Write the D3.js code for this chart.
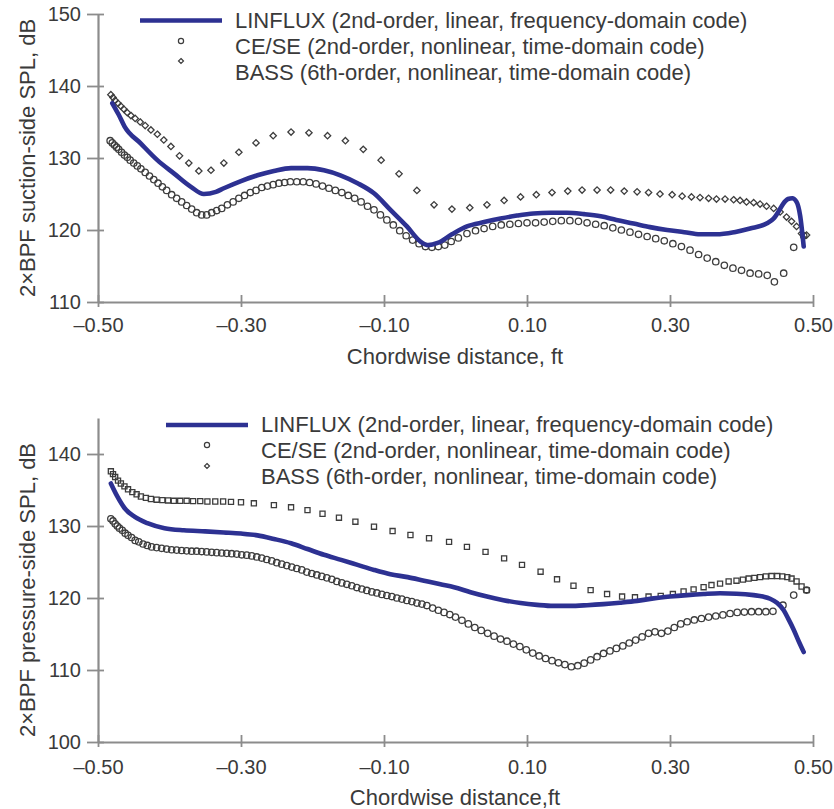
<!DOCTYPE html>
<html>
<head>
<meta charset="utf-8">
<script src="https://cdn.jsdelivr.net/npm/d3@7/dist/d3.min.js"></script>
<style>
  html, body { margin: 0; padding: 0; background: #fff; }
  svg { display: block; }
  text { font-family: "Liberation Sans", Arial, Helvetica, sans-serif; fill: #3a3a3a; }
</style>
</head>
<body>
<svg id="chart" width="834" height="809"></svg>
<script>
// ---- axis ticks and labels ----
const xTicks = [-0.5, -0.3, -0.1, 0.1, 0.3, 0.5];
const suctionTicks = [110, 120, 130, 140, 150];
const pressureTicks = [100, 110, 120, 130, 140];
const seriesNames = [
  "LINFLUX (2nd-order, linear, frequency-domain code)",
  "CE/SE (2nd-order, nonlinear, time-domain code)",
  "BASS (6th-order, nonlinear, time-domain code)"
];

// ---- suction side: [chordwise distance ft, 2xBPF SPL dB] ----
const suctionLinflux = [
  [-0.480, 137.6], [-0.471, 136.0], [-0.463, 134.4], [-0.440, 132.0], [-0.417, 129.7],
  [-0.393, 127.8], [-0.370, 126.0], [-0.352, 125.0], [-0.335, 125.3], [-0.324, 125.8],
  [-0.300, 126.8], [-0.277, 127.6], [-0.254, 128.2], [-0.230, 128.6], [-0.207, 128.6],
  [-0.184, 128.3], [-0.161, 127.6], [-0.137, 126.5], [-0.114, 125.1], [-0.091, 122.8],
  [-0.068, 120.5], [-0.049, 118.4], [-0.038, 117.9], [-0.025, 118.2], [-0.005, 119.4],
  [0.016, 120.5], [0.040, 121.1], [0.063, 121.6], [0.086, 122.0], [0.109, 122.3],
  [0.133, 122.4], [0.156, 122.4], [0.180, 122.2], [0.203, 121.9], [0.225, 121.4],
  [0.249, 120.9], [0.272, 120.4], [0.296, 120.0], [0.320, 119.7], [0.342, 119.4],
  [0.365, 119.4], [0.390, 119.7], [0.412, 120.2], [0.435, 120.9], [0.445, 121.6],
  [0.452, 122.6], [0.458, 123.6], [0.465, 124.3], [0.471, 124.4], [0.477, 123.9],
  [0.482, 122.0], [0.487, 117.7]
];

const suctionCese = [
  [-0.483, 132.4], [-0.480, 132.1], [-0.477, 131.8], [-0.474, 131.5], [-0.471, 131.2],
  [-0.467, 130.8], [-0.463, 130.4], [-0.459, 130.1], [-0.455, 129.7], [-0.450, 129.3],
  [-0.445, 128.9], [-0.440, 128.5], [-0.434, 128.0], [-0.428, 127.5], [-0.422, 127.0],
  [-0.416, 126.5], [-0.410, 126.0], [-0.404, 125.5], [-0.397, 124.9], [-0.390, 124.4],
  [-0.383, 123.9], [-0.376, 123.4], [-0.369, 122.9], [-0.362, 122.4], [-0.355, 122.1],
  [-0.348, 122.1], [-0.341, 122.4], [-0.334, 122.7], [-0.327, 123.0], [-0.319, 123.5],
  [-0.311, 123.9], [-0.303, 124.4], [-0.295, 124.8], [-0.287, 125.2], [-0.279, 125.5],
  [-0.271, 125.9], [-0.263, 126.1], [-0.255, 126.3], [-0.247, 126.5], [-0.239, 126.6],
  [-0.231, 126.7], [-0.222, 126.7], [-0.213, 126.7], [-0.204, 126.6], [-0.195, 126.4],
  [-0.186, 126.1], [-0.177, 125.8], [-0.168, 125.5], [-0.159, 125.2], [-0.150, 124.8],
  [-0.141, 124.4], [-0.132, 123.9], [-0.123, 123.3], [-0.114, 122.8], [-0.105, 122.1],
  [-0.096, 121.4], [-0.087, 120.7], [-0.078, 119.9], [-0.069, 119.2], [-0.060, 118.6],
  [-0.051, 118.1], [-0.042, 117.7], [-0.033, 117.6], [-0.024, 117.7], [-0.015, 117.9],
  [-0.006, 118.4], [0.004, 118.9], [0.016, 119.5], [0.028, 119.9], [0.040, 120.2],
  [0.052, 120.5], [0.064, 120.7], [0.076, 120.8], [0.088, 120.9], [0.100, 121.0],
  [0.112, 121.0], [0.124, 121.1], [0.136, 121.2], [0.148, 121.3], [0.160, 121.3],
  [0.172, 121.2], [0.184, 121.0], [0.196, 120.8], [0.208, 120.6], [0.220, 120.3],
  [0.232, 120.0], [0.244, 119.7], [0.256, 119.4], [0.268, 119.1], [0.280, 118.8],
  [0.292, 118.5], [0.304, 118.1], [0.316, 117.7], [0.328, 117.2], [0.340, 116.6],
  [0.352, 116.1], [0.364, 115.6], [0.376, 115.1], [0.388, 114.7], [0.400, 114.4],
  [0.412, 114.0], [0.424, 113.9], [0.436, 113.7], [0.446, 112.8], [0.459, 114.0],
  [0.473, 117.6], [0.487, 119.2]
];

const suctionBass = [
  [-0.482, 138.8], [-0.479, 138.4], [-0.476, 138.0], [-0.472, 137.6], [-0.468, 137.2],
  [-0.464, 136.8], [-0.459, 136.3], [-0.454, 135.9], [-0.448, 135.5], [-0.441, 135.0],
  [-0.434, 134.5], [-0.426, 133.9], [-0.417, 133.3], [-0.408, 132.5], [-0.398, 131.6],
  [-0.386, 130.3], [-0.373, 129.3], [-0.359, 128.2], [-0.342, 128.3], [-0.324, 129.3],
  [-0.303, 130.8], [-0.279, 132.1], [-0.255, 133.1], [-0.230, 133.6], [-0.205, 133.5],
  [-0.179, 133.1], [-0.154, 132.4], [-0.129, 131.2], [-0.104, 129.7], [-0.079, 127.8],
  [-0.054, 125.5], [-0.030, 123.5], [-0.005, 122.9], [0.020, 123.1], [0.044, 123.5],
  [0.068, 124.1], [0.091, 124.6], [0.113, 124.9], [0.135, 125.2], [0.157, 125.4],
  [0.177, 125.55], [0.198, 125.55], [0.217, 125.55], [0.236, 125.4], [0.254, 125.3],
  [0.270, 125.2], [0.286, 125.0], [0.303, 124.9], [0.317, 124.7], [0.330, 124.6],
  [0.342, 124.5], [0.354, 124.4], [0.365, 124.3], [0.377, 124.3], [0.389, 124.2],
  [0.398, 124.1], [0.407, 123.9], [0.417, 123.8], [0.426, 123.6], [0.435, 123.3],
  [0.445, 123.0], [0.454, 122.5], [0.463, 121.8], [0.470, 121.2], [0.477, 120.5],
  [0.484, 119.5], [0.491, 119.3]
];

// ---- pressure side: [chordwise distance ft, 2xBPF SPL dB] ----
const pressureLinflux = [
  [-0.482, 135.9], [-0.473, 134.1], [-0.463, 132.5], [-0.449, 131.3], [-0.431, 130.4],
  [-0.407, 129.7], [-0.380, 129.4], [-0.350, 129.25], [-0.324, 129.1], [-0.300, 128.95],
  [-0.277, 128.7], [-0.254, 128.2], [-0.230, 127.6], [-0.207, 126.8], [-0.184, 126.0],
  [-0.160, 125.3], [-0.137, 124.6], [-0.114, 123.9], [-0.091, 123.3], [-0.067, 122.9],
  [-0.044, 122.4], [-0.021, 121.9], [-0.002, 121.5], [0.021, 120.8], [0.044, 120.2],
  [0.067, 119.7], [0.091, 119.3], [0.114, 119.05], [0.137, 118.9], [0.160, 118.9],
  [0.184, 119.0], [0.207, 119.15], [0.230, 119.35], [0.254, 119.6], [0.277, 119.95],
  [0.300, 120.2], [0.324, 120.4], [0.347, 120.55], [0.370, 120.65], [0.393, 120.6],
  [0.417, 120.4], [0.430, 120.2], [0.440, 119.9], [0.450, 119.3], [0.459, 118.3],
  [0.466, 117.0], [0.473, 115.6], [0.480, 114.0], [0.487, 112.5]
];

const pressureCese = [
  [-0.482, 131.0], [-0.479, 130.7], [-0.476, 130.3], [-0.473, 130.0], [-0.470, 129.7],
  [-0.466, 129.4], [-0.462, 129.0], [-0.458, 128.7], [-0.453, 128.4], [-0.448, 128.0],
  [-0.443, 127.8], [-0.437, 127.5], [-0.431, 127.3], [-0.425, 127.1], [-0.418, 127.0],
  [-0.411, 126.9], [-0.404, 126.8], [-0.397, 126.7], [-0.390, 126.65], [-0.383, 126.6],
  [-0.376, 126.55], [-0.369, 126.5], [-0.362, 126.5], [-0.355, 126.45], [-0.348, 126.4],
  [-0.341, 126.35], [-0.334, 126.3], [-0.327, 126.25], [-0.320, 126.2], [-0.313, 126.15],
  [-0.306, 126.1], [-0.299, 126.0], [-0.292, 125.95], [-0.285, 125.85], [-0.278, 125.7],
  [-0.271, 125.55], [-0.264, 125.35], [-0.257, 125.15], [-0.250, 124.9], [-0.243, 124.7],
  [-0.236, 124.5], [-0.229, 124.3], [-0.222, 124.1], [-0.215, 123.9], [-0.208, 123.6],
  [-0.201, 123.4], [-0.194, 123.2], [-0.187, 123.0], [-0.180, 122.8], [-0.173, 122.6],
  [-0.166, 122.3], [-0.159, 122.1], [-0.152, 121.9], [-0.145, 121.7], [-0.138, 121.45],
  [-0.131, 121.25], [-0.124, 121.05], [-0.117, 120.85], [-0.110, 120.7], [-0.103, 120.5],
  [-0.096, 120.35], [-0.089, 120.2], [-0.082, 120.0], [-0.075, 119.85], [-0.068, 119.65],
  [-0.061, 119.5], [-0.054, 119.3], [-0.047, 119.15], [-0.040, 118.95], [-0.032, 118.6],
  [-0.024, 118.3], [-0.016, 118.0], [-0.008, 117.7], [0.000, 117.35], [0.009, 116.9],
  [0.018, 116.4], [0.027, 115.9], [0.036, 115.5], [0.045, 115.1], [0.054, 114.7],
  [0.063, 114.3], [0.072, 114.0], [0.081, 113.6], [0.090, 113.25], [0.099, 112.8],
  [0.108, 112.35], [0.117, 111.95], [0.126, 111.6], [0.135, 111.3], [0.144, 111.0],
  [0.153, 110.75], [0.162, 110.45], [0.171, 110.6], [0.180, 110.95], [0.189, 111.4],
  [0.198, 111.85], [0.207, 112.3], [0.216, 112.65], [0.225, 113.0], [0.234, 113.35],
  [0.243, 113.75], [0.252, 114.15], [0.261, 114.6], [0.270, 115.1], [0.279, 115.3],
  [0.288, 115.1], [0.297, 115.4], [0.306, 115.9], [0.315, 116.4], [0.324, 116.7],
  [0.334, 116.95], [0.344, 117.15], [0.354, 117.35], [0.364, 117.5], [0.374, 117.65],
  [0.384, 117.85], [0.394, 118.0], [0.404, 118.05], [0.414, 118.1], [0.424, 118.1],
  [0.434, 118.1], [0.444, 118.15], [0.458, 119.0], [0.473, 120.4], [0.491, 121.1]
];

const pressureBass = [
  [-0.482, 137.6], [-0.479, 137.2], [-0.476, 136.8], [-0.472, 136.3], [-0.468, 135.9],
  [-0.463, 135.5], [-0.458, 135.1], [-0.452, 134.7], [-0.446, 134.4], [-0.440, 134.1],
  [-0.433, 133.9], [-0.426, 133.75], [-0.418, 133.65], [-0.410, 133.6], [-0.402, 133.55],
  [-0.394, 133.5], [-0.385, 133.5], [-0.376, 133.5], [-0.367, 133.45], [-0.357, 133.45],
  [-0.347, 133.4], [-0.336, 133.4], [-0.325, 133.4], [-0.314, 133.35], [-0.300, 133.3],
  [-0.282, 133.15], [-0.254, 132.9], [-0.230, 132.6], [-0.207, 132.2], [-0.186, 131.7],
  [-0.163, 131.15], [-0.140, 130.6], [-0.114, 129.9], [-0.088, 129.3], [-0.063, 128.75],
  [-0.037, 128.3], [-0.009, 127.8], [0.016, 127.1], [0.042, 126.4], [0.068, 125.5],
  [0.093, 124.6], [0.119, 123.65], [0.142, 122.6], [0.165, 121.7], [0.189, 121.1],
  [0.212, 120.55], [0.233, 120.2], [0.251, 120.1], [0.270, 120.2], [0.287, 120.3],
  [0.304, 120.55], [0.319, 120.9], [0.333, 121.2], [0.347, 121.5], [0.358, 121.8],
  [0.370, 122.0], [0.382, 122.3], [0.393, 122.4], [0.402, 122.55], [0.410, 122.7],
  [0.418, 122.8], [0.426, 122.9], [0.434, 123.0], [0.442, 123.05], [0.450, 123.05],
  [0.457, 123.0], [0.464, 122.9], [0.470, 122.7], [0.477, 122.3], [0.484, 121.6],
  [0.491, 121.1]
];

// ---- drawing ----
const svg = d3.select("#chart");
const LINE_BLUE = "#2d3192";
const AXIS_GREY = "#8c8c8c";
const MARK_STROKE = "#3d3d3d";

const x = d3.scaleLinear().domain([-0.5, 0.5]).range([98, 813]);
const fmt = d3.format(".2f");
const xLabel = d => d < 0 ? "\u2013" + fmt(-d) : fmt(d);

function drawPanel(cfg) {
  const g = svg.append("g");
  const y = d3.scaleLinear().domain(cfg.yDomain).range(cfg.yRange);

  // x axis
  const xAxis = g.append("g")
    .attr("transform", `translate(0,${cfg.yRange[0]})`)
    .call(d3.axisBottom(x).tickValues(xTicks).tickFormat(xLabel).tickSize(5).tickSizeOuter(0).tickPadding(cfg.xPad));
  xAxis.selectAll(".tick line").attr("y1", -7);

  // y axis
  const yAxis = g.append("g")
    .attr("transform", `translate(${x(-0.5)},0)`)
    .call(d3.axisLeft(y).tickValues(cfg.yTicks).tickFormat(d3.format("d")).tickSize(11).tickSizeOuter(0).tickPadding(6));
  yAxis.selectAll(".tick line").attr("x1", 6);

  [xAxis, yAxis].forEach(a => {
    a.select(".domain").attr("stroke", AXIS_GREY).attr("stroke-width", 2.2);
    a.selectAll(".tick line").attr("stroke", AXIS_GREY).attr("stroke-width", 1.8);
    a.selectAll(".tick text").style("font-size", "20px").attr("fill", "#3a3a3a")
      .style("font-family", "'Liberation Sans', Arial, sans-serif");
  });

  // axis titles
  g.append("text")
    .attr("x", 455).attr("y", cfg.xTitleY)
    .attr("text-anchor", "middle")
    .style("font-size", "22px")
    .text(cfg.xTitle);
  g.append("text")
    .attr("transform", `translate(35,${cfg.yTitleMid}) rotate(-90)`)
    .attr("text-anchor", "middle")
    .style("font-size", "22px")
    .text(cfg.yTitle);

  // CE/SE circles
  g.append("g").selectAll("circle").data(cfg.cese).join("circle")
    .attr("cx", d => x(d[0])).attr("cy", d => y(d[1])).attr("r", 3.2)
    .attr("fill", "none").attr("stroke", MARK_STROKE).attr("stroke-width", 1.3);

  // BASS markers
  const bassSym = d3.symbol().type(cfg.bassShape).size(cfg.bassSize);
  g.append("g").selectAll("path").data(cfg.bass).join("path")
    .attr("transform", d => `translate(${x(d[0])},${y(d[1])})`)
    .attr("d", bassSym)
    .attr("fill", "none").attr("stroke", MARK_STROKE).attr("stroke-width", 1.3);

  // LINFLUX line
  g.append("path").datum(cfg.linflux)
    .attr("d", d3.line().x(d => x(d[0])).y(d => y(d[1])).curve(d3.curveMonotoneX))
    .attr("fill", "none").attr("stroke", LINE_BLUE).attr("stroke-width", 4.6)
    .attr("stroke-linejoin", "round").attr("stroke-linecap", "round");

  // legend
  const L = cfg.legend;
  const lg = g.append("g");
  lg.append("line")
    .attr("x1", L.lineX0).attr("x2", L.lineX1).attr("y1", L.lineY).attr("y2", L.lineY)
    .attr("stroke", LINE_BLUE).attr("stroke-width", 4.6);
  lg.append("circle")
    .attr("cx", L.markX).attr("cy", L.ceseY).attr("r", 2.6)
    .attr("fill", "none").attr("stroke", MARK_STROKE).attr("stroke-width", 1.2);
  lg.append("path")
    .attr("transform", `translate(${L.markX},${L.bassY})`)
    .attr("d", d3.symbol().type(d3.symbolDiamond2).size(16))
    .attr("fill", "none").attr("stroke", MARK_STROKE).attr("stroke-width", 1.2);
  lg.selectAll("text").data(seriesNames).join("text")
    .attr("x", L.textX).attr("y", (d, i) => L.baselines[i])
    .style("font-size", "22px")
    .text(d => d);
}

drawPanel({
  yDomain: [110, 150], yRange: [302, 14], yTicks: suctionTicks,
  xPad: 11, xTitleY: 364, xTitle: "Chordwise distance, ft",
  yTitle: "2\u00d7BPF suction-side SPL, dB", yTitleMid: 158,
  linflux: suctionLinflux, cese: suctionCese, bass: suctionBass,
  bassShape: d3.symbolDiamond2, bassSize: 26,
  legend: { lineX0: 140, lineX1: 222, lineY: 20.5, markX: 181, ceseY: 41, bassY: 61,
            textX: 235, baselines: [27.5, 54, 80] }
});

drawPanel({
  yDomain: [100, 145], yRange: [742, 418], yTicks: pressureTicks,
  xPad: 13, xTitleY: 805, xTitle: "Chordwise distance,ft",
  yTitle: "2\u00d7BPF pressure-side SPL, dB", yTitleMid: 590,
  linflux: pressureLinflux, cese: pressureCese, bass: pressureBass,
  bassShape: d3.symbolSquare, bassSize: 26,
  legend: { lineX0: 166, lineX1: 248, lineY: 425, markX: 207, ceseY: 445, bassY: 466,
            textX: 261, baselines: [432, 458, 484] }
});
</script>
</body>
</html>
